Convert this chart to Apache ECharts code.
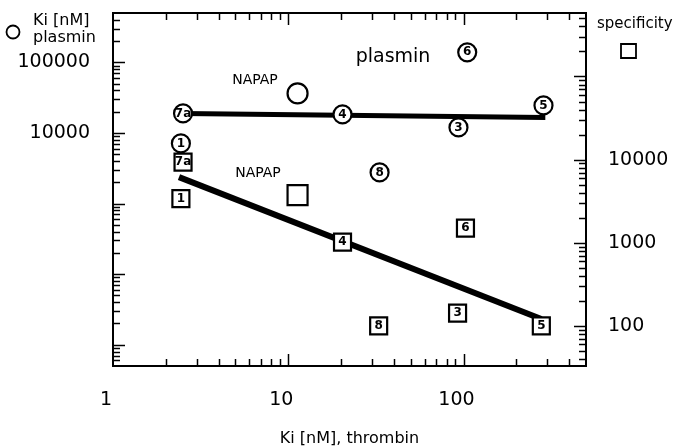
<!DOCTYPE html>
<html><head><meta charset="utf-8">
<script src="https://cdn.jsdelivr.net/npm/echarts@6/dist/echarts.min.js"></script>
<style>html,body{margin:0;padding:0;background:#fff}#c{width:678px;height:446px}</style>
</head><body><div id="c"></div>
<script>
const FONT = '"DejaVu Sans", "Liberation Sans", sans-serif';
// Ki plasmin (left axis, circles) vs Ki thrombin (x)
const plasminLabels = ['7a', '1', '4', '8', '3', '6', '5'];
const plasminX = [2.51, 2.44, 20.4, 33.2, 93.6, 105, 286];
const plasminY = [18900, 7100, 18300, 2760, 11970, 138600, 24500];
const napapPlasmin = [11.3, 36300];
// specificity (right axis, squares)
const specLabels = ['7a', '1', '4', '8', '3', '6', '5'];
const specX = [2.51, 2.44, 20.4, 32.8, 92.5, 102.6, 278];
const specY = [9330, 3400, 1020, 100, 143, 1500, 100];
const napapSpec = [11.3, 3750];
// regression lines
const plasminFitX = [2.51, 293];
const plasminFitY = [18900, 16600];
const specFitX = [2.38, 278];
const specFitY = [6170, 121];
// tick labels
const xTickLabels = [1, 10, 100];
const leftTickLabels = [10000, 100000];
const rightTickLabels = [100, 1000, 10000];
// tick decades (minor ticks at 1..9 x decade)
const xDecades = [1, 10, 100];
const leftDecades = [1, 10, 100, 1000, 10000, 100000];
const rightDecades = [10, 100, 1000, 10000, 100000];
const X_RANGE = [1, 500], LEFT_RANGE = [5, 500000], RIGHT_RANGE = [33, 580000];

function tickValues(decades, range) {
  const out = [];
  decades.forEach(d => { for (let k = 1; k <= 9; k++) { const v = d * k; if (v > range[0] * 1.0001 && v < range[1] * 0.9999) out.push(v); } });
  return out;
}
function isPow10(v) { const l = Math.log10(v); return Math.abs(l - Math.round(l)) < 1e-6; }
function fmt(list) {
  return v => { const t = list.find(t => Math.abs(t - v) / t < 1e-6); return t === undefined ? '' : String(t); };
}
function tickSeries(values, side, yAxisIndex) {
  return {
    type: 'custom', xAxisIndex: 0, yAxisIndex: yAxisIndex, silent: true, clip: false, z: 1,
    data: values.map(v => side === 'x' ? [v, 1000] : [2, v]),
    renderItem(params, api) {
      const cs = params.coordSys;
      const v = api.value(side === 'x' ? 0 : 1);
      const len = isPow10(v) ? 12 : 7;
      const p = api.coord([api.value(0), api.value(1)]);
      const st = { stroke: '#000', lineWidth: 1.5 };
      if (side === 'x') {
        const x = Math.round(p[0]) + 0.5;
        return { type: 'group', children: [
          { type: 'line', shape: { x1: x, y1: cs.y + cs.height, x2: x, y2: cs.y + cs.height - len }, style: st },
          { type: 'line', shape: { x1: x, y1: cs.y, x2: x, y2: cs.y + len }, style: st }] };
      }
      const y = Math.round(p[1]) + 0.5;
      if (side === 'left') return { type: 'line', shape: { x1: cs.x, y1: y, x2: cs.x + len, y2: y }, style: st };
      return { type: 'line', shape: { x1: cs.x + cs.width, y1: y, x2: cs.x + cs.width - len, y2: y }, style: st };
    }
  };
}
const symLabel = { show: true, position: 'inside', formatter: '{b}', color: '#000', fontSize: 12, fontWeight: 'bold', fontFamily: FONT };
const symStyle = { color: '#fff', borderColor: '#000', borderWidth: 2.2, opacity: 1 };
const chart = echarts.init(document.getElementById('c'));
const yBase = {
  type: 'log', logBase: 10, axisLine: { show: false }, axisTick: { show: false }, splitLine: { show: false }, minorTick: { show: false }
};
chart.setOption({
  animation: false,
  grid: { left: 113, top: 13, right: 92, bottom: 80, outerBoundsMode: 'none', containLabel: false,
    show: true, borderColor: '#000', borderWidth: 2, backgroundColor: 'transparent' },
  xAxis: {
    type: 'log', logBase: 10, min: X_RANGE[0], max: X_RANGE[1],
    axisLine: { show: false }, axisTick: { show: false }, splitLine: { show: false },
    axisLabel: { formatter: fmt(xTickLabels), fontSize: 19, color: '#000', fontFamily: FONT, margin: 25, padding: [0, 14, 0, 0] },
    name: 'Ki [nM], thrombin', nameLocation: 'middle', nameGap: 65,
    nameTextStyle: { fontSize: 16, color: '#000', fontFamily: FONT }
  },
  yAxis: [
    Object.assign({}, yBase, { position: 'left', min: LEFT_RANGE[0], max: LEFT_RANGE[1],
      axisLabel: { formatter: fmt(leftTickLabels), fontSize: 19, color: '#000', fontFamily: FONT, margin: 23, padding: [4, 0, 0, 0] } }),
    Object.assign({}, yBase, { position: 'right', min: RIGHT_RANGE[0], max: RIGHT_RANGE[1],
      axisLabel: { formatter: fmt(rightTickLabels), fontSize: 19, color: '#000', fontFamily: FONT, margin: 22, padding: [4, 0, 0, 0] } })
  ],
  series: [
    tickSeries(tickValues(xDecades, X_RANGE), 'x', 0),
    tickSeries(tickValues(leftDecades, LEFT_RANGE), 'left', 0),
    tickSeries(tickValues(rightDecades, RIGHT_RANGE), 'right', 1),
    { type: 'line', yAxisIndex: 0, z: 2, symbol: 'none', silent: true,
      lineStyle: { color: '#000', width: 5 }, data: plasminFitX.map((x, i) => [x, plasminFitY[i]]) },
    { type: 'line', yAxisIndex: 1, z: 2, symbol: 'none', silent: true,
      lineStyle: { color: '#000', width: 6 }, data: specFitX.map((x, i) => [x, specFitY[i]]) },
    { type: 'scatter', yAxisIndex: 0, z: 3, symbol: 'circle', symbolSize: 18, itemStyle: symStyle, label: symLabel,
      data: plasminX.map((x, i) => ({ name: plasminLabels[i], value: [x, plasminY[i]] })) },
    { type: 'scatter', yAxisIndex: 0, z: 3, symbol: 'circle', symbolSize: 20, itemStyle: symStyle,
      data: [{ name: 'NAPAP', value: napapPlasmin }] },
    { type: 'scatter', yAxisIndex: 1, z: 3, symbol: 'rect', symbolSize: 17, itemStyle: symStyle, label: symLabel,
      data: specX.map((x, i) => ({ name: specLabels[i], value: [x, specY[i]] })) },
    { type: 'scatter', yAxisIndex: 1, z: 3, symbol: 'rect', symbolSize: 20, itemStyle: symStyle,
      data: [{ name: 'NAPAP', value: napapSpec }] }
  ],
  graphic: [
    { type: 'circle', shape: { cx: 13, cy: 32, r: 6.5 }, style: { fill: '#fff', stroke: '#000', lineWidth: 1.8 } },
    { type: 'text', style: { text: 'Ki [nM]', x: 33, y: 21, font: '16px ' + FONT, fill: '#000', textVerticalAlign: 'middle' } },
    { type: 'text', style: { text: 'plasmin', x: 33, y: 38, font: '16px ' + FONT, fill: '#000', textVerticalAlign: 'middle' } },
    { type: 'text', style: { text: 'specificity', x: 597, y: 24, font: '15px ' + FONT, fill: '#000', textVerticalAlign: 'middle' } },
    { type: 'rect', shape: { x: 621, y: 44, width: 15, height: 14 }, style: { fill: '#fff', stroke: '#000', lineWidth: 1.8 } },
    { type: 'text', style: { text: 'plasmin', x: 393, y: 57, font: '19px ' + FONT, fill: '#000', textAlign: 'center', textVerticalAlign: 'middle' } },
    { type: 'text', style: { text: 'NAPAP', x: 255, y: 80, font: '14px ' + FONT, fill: '#000', textAlign: 'center', textVerticalAlign: 'middle' } },
    { type: 'text', style: { text: 'NAPAP', x: 258, y: 173, font: '14px ' + FONT, fill: '#000', textAlign: 'center', textVerticalAlign: 'middle' } }
  ]
});
</script></body></html>
